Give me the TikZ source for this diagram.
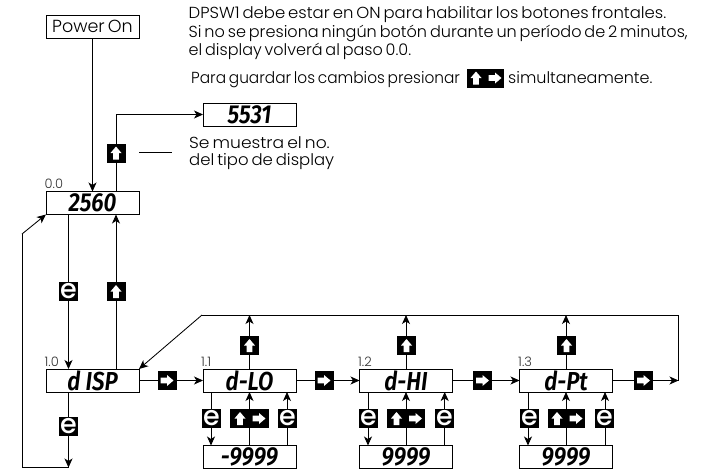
\documentclass[tikz,border=0pt]{standalone}
\usepackage{fontspec}
\usepackage{graphicx}
\setmainfont{Poppins}[UprightFont=* Light,BoldFont=* Medium,WordSpace=0.65]
\newfontfamily\segfont{Fira Sans}[ItalicFont=* SemiBold Italic]
\newcommand{\seg}[1]{\scalebox{0.86}[1]{\segfont\itshape\fontsize{26}{26}\selectfont #1}}
\newcommand{\fit}[2]{\scalebox{#1}[1]{#2}}
\usetikzlibrary{arrows.meta,calc}
\newcommand{\upglyph}[2]{\fill[white] (#1-5.5,#2) -- (#1,#2-6.5) -- (#1+5.5,#2) -- (#1+2.8,#2) -- (#1+2.8,#2+6.5) -- (#1-2.8,#2+6.5) -- (#1-2.8,#2) -- cycle;}
\newcommand{\rightglyph}[2]{\fill[white] (#1,#2-5.5) -- (#1+6.5,#2) -- (#1,#2+5.5) -- (#1,#2+2.8) -- (#1-6.5,#2+2.8) -- (#1-6.5,#2-2.8) -- (#1,#2-2.8) -- cycle;}
\begin{document}
\begin{tikzpicture}[x=1pt,y=-1pt,
  lcdbox/.style={draw=black,line width=0.9pt,fill=white,minimum width=93pt,minimum height=23pt,inner sep=0pt,outer sep=0pt},
  plainbox/.style={lcdbox,font=\fontsize{17.5}{17.5}\selectfont},
  link/.style={line width=0.85pt,draw=black},
  arr/.style={link,-{Stealth[length=9pt,width=8pt,inset=2.5pt]}},
  key/.style={fill=black,minimum width=19pt,minimum height=19pt,inner sep=0pt,outer sep=0pt,text=white},
  ekey/.style={key,font=\bfseries\fontsize{27}{27}\selectfont},
  wkey/.style={fill=black,minimum height=19pt,inner sep=0pt,outer sep=0pt},
  stepnum/.style={inner sep=0pt,anchor=base west,text=black!80,font=\fontsize{13}{13}\selectfont},
  note/.style={inner sep=0pt,anchor=base west,font=\fontsize{16}{16}\selectfont},
]
\useasboundingbox (0,0) rectangle (723,471);
% boxes
\node[plainbox] (pw) at (92.5,26.5) {Power On};
\node[lcdbox] (sn) at (249.5,114.5) {\seg{5531}};
\node[lcdbox] (run) at (92.5,203) {\seg{2560}};
\node[lcdbox] (dsp) at (92.5,380.5) {\seg{d ISP}};
\node[lcdbox] (lo) at (249.5,380.5) {\seg{d-LO}};
\node[lcdbox] (hi) at (406,380.5) {\seg{d-HI}};
\node[lcdbox] (pt) at (566,380.5) {\seg{d-Pt}};
\node[lcdbox] (vlo) at (249.5,457) {\seg{-9999}};
\node[lcdbox] (vhi) at (406,457) {\seg{9999}};
\node[lcdbox] (vpt) at (566,457) {\seg{9999}};
% labels
\node[stepnum] (l0) at (44.5,188) {0.0};
\node[stepnum] (l1) at (44.5,366) {1.0};
\node[stepnum] (l2) at (201,366) {1.1};
\node[stepnum] (l3) at (358,366) {1.2};
\node[stepnum] (l4) at (518,366) {1.3};
% notes
\node[note] (t1) at (188.5,18) {\fit{1.03}{DPSW1 debe estar en ON para habilitar los botones frontales.}};
\node[note] (t2) at (188.5,37.5) {\fit{1.005}{Si no se presiona ningún botón durante un período de 2 minutos,}};
\node[note] (t3) at (188.5,55) {el display volverá al paso 0.0.};
\node[note] (t4) at (191,83) {\fit{0.96}{Para guardar los cambios presionar}};
\node[note] (t5) at (508,83) {simultaneamente.};
\node[note] (t6) at (189,148) {\fit{1.07}{Se muestra el no.}};
\node[note] (t7) at (189,165) {\fit{1.03}{del tipo de display}};
% free coordinates
\coordinate (c1) at (116,114.5);
\coordinate (c2) at (172,152.5);
\coordinate (c3) at (139,152.5);
\coordinate (dn) at (68.5,467.5);
\coordinate (dl) at (22,467.5);
\coordinate (ul) at (22,234);
\coordinate (en) at (678.5,380.5);
\coordinate (tr) at (678.5,315);
\coordinate (tl) at (202,315);
% connectors
\draw[arr] (pw.south) -- (run.north);
\draw[arr] (run.north -| c1) -- (c1) -- (sn.west);
\draw[link] (c3) -- (c2);
\draw[arr] (run.south -| dn) -- (dsp.north -| dn);
\draw[arr] (dsp.north -| c1) -- (run.south -| c1);
\draw[arr] (dsp.south -| dn) -- (dn);
\draw[link] (dn) -- (dl) -- (ul);
\draw[arr] (ul) -- (run.south west);
\draw[arr] (dsp.east) -- (lo.west);
\draw[arr] (lo.east) -- (hi.west);
\draw[arr] (hi.east) -- (pt.west);
\draw[arr] (pt.east) -- (en);
\draw[link] (en) -- (tr) -- (tl);
\draw[arr] (tl) -- (dsp.north east);
\draw[arr] (lo.north) -- (lo.north |- tl);
\draw[arr] (hi.north) -- (hi.north |- tl);
\draw[arr] (pt.north) -- (pt.north |- tl);
\foreach \b/\v/\xa/\xb in {lo/vlo/211/287,hi/vhi/368/444.7,pt/vpt/528/605}{
  \draw[arr] (\b.south -| \xa,0) -- (\v.north -| \xa,0);
  \draw[arr] (\v.north) -- (\b.south);
  \draw[arr] (\v.north -| \xb,0) -- (\b.south -| \xb,0);
}
% keys
\node[key] (ku) at (116,153) {}; \upglyph{116}{153}
\node[ekey] (ke) at (68.5,291.5) {e};
\node[key] (ku2) at (116,291.5) {}; \upglyph{116}{291.5}
\node[ekey] (ke2) at (68.5,426.5) {e};
\foreach \n/\x in {ru1/167,ru2/324,ru3/482.5,ru4/643.5}{
  \node[key] (\n) at (\x,380.5) {}; \rightglyph{\x}{380.5}
}
\foreach \n/\x in {up1/249.5,up2/406.5,up3/566.5}{
  \node[key] (\n) at (\x,345.5) {}; \upglyph{\x}{345.5}
}
\foreach \n/\x in {ea/211.5,eb/287.5,ec/368.5,ed/444.5,ee/529.5,ef/604.5}{
  \node[ekey] (\n) at (\x,418.5) {e};
}
\foreach \n/\x/\w in {w1/249.5/39,w2/406/38,w3/566.5/37}{
  \node[wkey,minimum width=\w pt] (\n) at (\x,418.5) {};
  \upglyph{\x-9.5}{418.5}
  \rightglyph{\x+9.5}{418.5}
}
\node[wkey,minimum width=37pt] (w4) at (485.5,78) {};
\upglyph{476}{78}
\rightglyph{495}{78}
\end{tikzpicture}
\end{document}
